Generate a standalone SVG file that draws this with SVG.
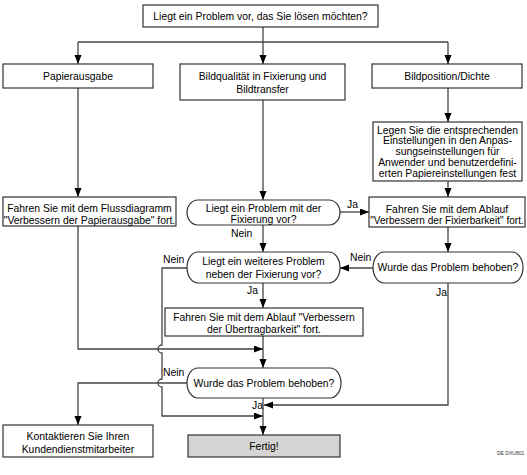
<svg xmlns="http://www.w3.org/2000/svg" width="527" height="475" viewBox="0 0 527 475">
<defs>
<marker id="arr" markerUnits="userSpaceOnUse" markerWidth="10" markerHeight="8" refX="9" refY="3.5" orient="auto">
<path d="M0,0 L9,3.5 L0,7 z" fill="#000"/>
</marker>
<style>
.b{fill:#fff;stroke:#333;stroke-width:1.2}
.g{fill:#d4d4d4;stroke:#333;stroke-width:1.2}
.t{font-family:"Liberation Sans",Arial,sans-serif;font-size:10.4px;fill:#000;text-anchor:middle}
.l{font-family:"Liberation Sans",Arial,sans-serif;font-size:10.4px;fill:#000}
.c{fill:none;stroke:#444;stroke-width:1.3}
.a{marker-end:url(#arr)}
</style>
</defs>
<rect width="527" height="475" fill="#fff"/>
<g id="connectors">
<path class="c" d="M263,27 V42 M78,42 H448"/>
<path class="c a" d="M78,42 V64"/>
<path class="c a" d="M263,42 V64"/>
<path class="c a" d="M448,42 V64"/>
<path class="c a" d="M78,88 V197"/>
<path class="c a" d="M263,100 V200"/>
<path class="c a" d="M448,88 V122"/>
<path class="c a" d="M448,181 V197"/>
<path class="c a" d="M448,227 V252"/>
<path class="c a" d="M340,212 H369"/>
<path class="c a" d="M263,225 V252"/>
<path class="c a" d="M373,268 H340"/>
<path class="c a" d="M263,283 V308"/>
<path class="c a" d="M263,336 V368"/>
<path class="c a" d="M78,226 V349 H263"/>
<path class="c a" d="M187,268 H162 V345 A4,4 0 0 0 162,353 V379 A4,4 0 0 0 162,387 V416 H263"/>
<path class="c a" d="M187,383 H78 V425"/>
<path class="c a" d="M448,283 V405 H264"/>
<path class="c a" d="M263,398 V435"/>
<text class="l" x="347" y="208">Ja</text>
<text class="l" x="231" y="237">Nein</text>
<text class="l" x="350" y="261">Nein</text>
<text class="l" x="247" y="294">Ja</text>
<text class="l" x="436" y="296">Ja</text>
<text class="l" x="163" y="263">Nein</text>
<text class="l" x="163" y="376">Nein</text>
<text class="l" x="252" y="409">Ja</text>
</g>
<g id="start">
<rect class="b" x="143" y="5" width="235" height="22"/>
<text class="t" x="260.5" y="19.5">Liegt ein Problem vor, das Sie lösen möchten?</text>
</g>
<g id="papierausgabe">
<rect class="b" x="3" y="64" width="150" height="24"/>
<text class="t" x="78" y="79.5">Papierausgabe</text>
</g>
<g id="bildqualitaet">
<rect class="b" x="180" y="64" width="165" height="36"/>
<text class="t" x="262.5" y="79.5">Bildqualität in Fixierung und</text>
<text class="t" x="262.5" y="92.5">Bildtransfer</text>
</g>
<g id="bildposition">
<rect class="b" x="372" y="64" width="150" height="24"/>
<text class="t" x="447" y="79.5">Bildposition/Dichte</text>
</g>
<g id="legen">
<rect class="b" x="373" y="122" width="149" height="59"/>
<text class="t" x="447.5" y="133.5">Legen Sie die entsprechenden</text>
<text class="t" x="447.5" y="144.3">Einstellungen in den Anpas-</text>
<text class="t" x="447.5" y="155.1">sungseinstellungen für</text>
<text class="t" x="447.5" y="165.9">Anwender und benutzerdefini-</text>
<text class="t" x="447.5" y="176.7">erten Papiereinstellungen fest</text>
</g>
<g id="flussdiagramm">
<rect class="b" x="3" y="197" width="173" height="29"/>
<text class="t" x="89.5" y="212">Fahren Sie mit dem Flussdiagramm</text>
<text class="t" x="89.5" y="223.5">"Verbessern der Papierausgabe" fort.</text>
</g>
<g id="frage-fixierung">
<rect class="b" x="187" y="200" width="153" height="25" rx="11" ry="12.5"/>
<text class="t" x="263.5" y="212">Liegt ein Problem mit der</text>
<text class="t" x="263.5" y="223">Fixierung vor?</text>
</g>
<g id="fixierbarkeit">
<rect class="b" x="369" y="197" width="156" height="30"/>
<text class="t" x="447" y="212.5">Fahren Sie mit dem Ablauf</text>
<text class="t" x="447" y="224" style="font-size:10.1px">"Verbessern der Fixierbarkeit" fort.</text>
</g>
<g id="frage-weiteres">
<rect class="b" x="187" y="252" width="153" height="31" rx="11" ry="15.5"/>
<text class="t" x="263.5" y="265">Liegt ein weiteres Problem</text>
<text class="t" x="263.5" y="278">neben der Fixierung vor?</text>
</g>
<g id="behoben-rechts">
<rect class="b" x="373" y="252" width="150" height="31" rx="11" ry="15.5"/>
<text class="t" x="448" y="270.5">Wurde das Problem behoben?</text>
</g>
<g id="uebertragbarkeit">
<rect class="b" x="165" y="308" width="198" height="28"/>
<text class="t" x="264" y="320.5">Fahren Sie mit dem Ablauf "Verbessern</text>
<text class="t" x="264" y="332.5">der Übertragbarkeit" fort.</text>
</g>
<g id="behoben-mitte">
<rect class="b" x="187" y="368" width="154" height="30" rx="11" ry="15"/>
<text class="t" x="264" y="386.5">Wurde das Problem behoben?</text>
</g>
<g id="kontakt">
<rect class="b" x="3" y="425" width="150" height="32"/>
<text class="t" x="78" y="439.5">Kontaktieren Sie Ihren</text>
<text class="t" x="78" y="452.5">Kundendienstmitarbeiter</text>
</g>
<g id="fertig">
<rect class="g" x="188" y="435" width="152" height="22"/>
<text class="t" x="264" y="449.5">Fertig!</text>
</g>
<text x="497" y="455" font-family="'Liberation Sans',Arial,sans-serif" font-size="5" fill="#333">DE DXU801</text>
</svg>
